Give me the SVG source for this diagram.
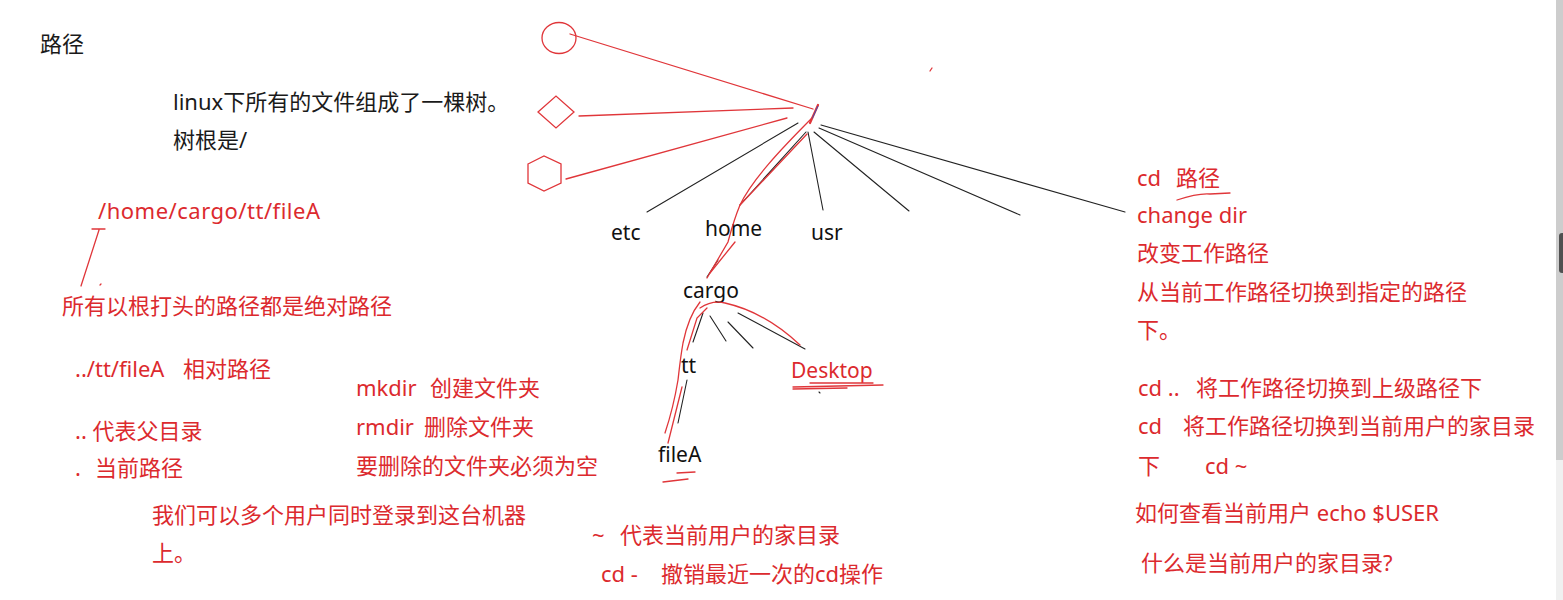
<svg xmlns="http://www.w3.org/2000/svg" width="1563" height="600" viewBox="0 0 1563 600">
<style>
text{font-family:"Noto Sans","Noto Sans CJK SC",sans-serif;font-size:22px}
.k{fill:#1a1a1a}
.r{fill:#dc2a2e}
.t{font-size:21px;fill:#111}
.t.red{fill:#dc2a2e}
.rl{stroke:#e0363a;stroke-width:1.3;fill:none;stroke-linecap:round}
.bl{stroke:#222;stroke-width:1.1;fill:none;stroke-linecap:round}
</style>
<rect width="1563" height="600" fill="#ffffff"/>

<g id="notes-left">
<text class="k" x="40" y="52">路径</text>
<text class="k" x="173" y="110">linux下所有的文件组成了一棵树。</text>
<text class="k" x="173" y="148">树根是/</text>
<text class="r" x="98" y="219" letter-spacing="0.5">/home/cargo/tt/fileA</text>
<text class="r" x="62" y="314">所有以根打头的路径都是绝对路径</text>
<text class="r" x="75" y="377">../tt/fileA<tspan x="183">相对路径</tspan></text>
<text class="r" x="75" y="439">.. 代表父目录</text>
<text class="r" x="75" y="476">.<tspan x="95">当前路径</tspan></text>
<text class="r" x="356" y="396">mkdir<tspan x="430">创建文件夹</tspan></text>
<text class="r" x="356" y="435">rmdir<tspan x="424">删除文件夹</tspan></text>
<text class="r" x="356" y="474">要删除的文件夹必须为空</text>
<text class="r" x="152" y="523">我们可以多个用户同时登录到这台机器</text>
<text class="r" x="152" y="561">上。</text>
<text class="r" x="592" y="543">~<tspan x="620">代表当前用户的家目录</tspan></text>
<text class="r" x="601" y="582">cd -<tspan x="661">撤销最近一次的cd操作</tspan></text>
</g>

<g id="notes-right">
<text class="r" x="1137" y="186">cd<tspan x="1176">路径</tspan></text>
<text class="r" x="1137" y="223">change dir</text>
<text class="r" x="1137" y="261">改变工作路径</text>
<text class="r" x="1137" y="300">从当前工作路径切换到指定的路径</text>
<text class="r" x="1137" y="338">下。</text>
<text class="r" x="1138" y="396">cd ..<tspan x="1196">将工作路径切换到上级路径下</tspan></text>
<text class="r" x="1138" y="434">cd<tspan x="1183">将工作路径切换到当前用户的家目录</tspan></text>
<text class="r" x="1138" y="474">下<tspan x="1205">cd ~</tspan></text>
<text class="r" x="1135" y="521">如何查看当前用户 echo $USER</text>
<text class="r" x="1141" y="571">什么是当前用户的家目录?</text>
</g>

<g id="shapes">
<ellipse id="circle" cx="559" cy="38" rx="17" ry="15.5" class="rl"/>
<polygon id="diamond" points="538,112 556,96 574,112 556,128" class="rl"/>
<polygon id="hexagon" points="528,164 544,156 561,164 561,183 544,191 528,183" class="rl"/>
</g>

<g id="nodes">
<g id="n-etc"><text class="t" x="611" y="240">etc</text></g>
<g id="n-home"><text class="t" x="705" y="236">home</text></g>
<g id="n-usr"><text class="t" x="811" y="240">usr</text></g>
<g id="n-cargo"><text class="t" x="683" y="298">cargo</text></g>
<g id="n-tt"><text class="t" x="681" y="373">tt</text></g>
<g id="n-fileA"><text class="t" x="658" y="462">fileA</text></g>
<g id="n-desktop"><text class="t red" x="791" y="378">Desktop</text></g>
</g>

<g id="connectors">
<line class="rl" x1="570" y1="34" x2="813" y2="109"/>
<line class="rl" x1="579" y1="116" x2="793" y2="108"/>
<line class="rl" x1="566" y1="179" x2="787" y2="118"/>
<line x1="818" y1="105" x2="810" y2="123" stroke="#e0363a" stroke-width="2.2" stroke-linecap="round"/>
<line x1="818" y1="106" x2="812" y2="119" stroke="#3050c0" stroke-width="0.9"/>
<line class="bl" x1="798" y1="123" x2="647" y2="212"/>
<line class="bl" x1="806" y1="132" x2="740" y2="205"/>
<line class="bl" x1="808" y1="132" x2="823" y2="210"/>
<line class="bl" x1="814" y1="132" x2="909" y2="211"/>
<line class="bl" x1="819" y1="128" x2="1020" y2="215"/>
<line class="bl" x1="821" y1="125" x2="1125" y2="212"/>
<line class="bl" x1="718" y1="260" x2="707" y2="277"/>
<line class="bl" x1="738" y1="313" x2="805" y2="349"/>
<line class="bl" x1="710" y1="316" x2="726" y2="341"/>
<line class="bl" x1="728" y1="322" x2="753" y2="348"/>
<line class="bl" x1="703" y1="313" x2="693" y2="342"/>
<line class="bl" x1="687" y1="380" x2="678" y2="423"/>
<path class="rl" d="M812,118 C780,150 752,180 740,205 C733,222 730,235 728,242 L707,278"/>
<path class="rl" d="M807,134 L740,205 M735,242 L710,273"/>
<path class="rl" d="M700,308 Q712,300 725,303 Q765,312 800,345"/>
<path class="rl" d="M707,308 L697,318 L687,350"/>
<path class="rl" d="M700,302 C692,312 686,328 683,343 C680,360 679,372 678,380 C675,398 670,418 665,433"/>
<path class="rl" d="M682,387 L668,443"/>
<path class="rl" d="M793,387 L883,385 M793,389 L847,388 M810,383 L873,383"/>
<line class="bl" x1="819" y1="392" x2="820" y2="393"/>
<path class="rl" d="M677,473 L695,472 M663,482 L688,479"/>
<path class="rl" d="M1177,200 Q1198,193 1210,194 L1230,193"/>
<path class="rl" d="M92,229 L105,229 M99,230 L81,286"/>
<line class="rl" x1="100" y1="285" x2="101" y2="284"/>
<line class="rl" x1="930" y1="71" x2="932" y2="68"/>
</g>

<g id="scrollbar">
<rect x="1556" y="0" width="7" height="460" fill="#cdcdcd"/>
<rect x="1556" y="460" width="7" height="140" fill="#f0f0f0"/>
<rect x="1559" y="233" width="6" height="40" rx="3" fill="#505050"/>
</g>
</svg>
